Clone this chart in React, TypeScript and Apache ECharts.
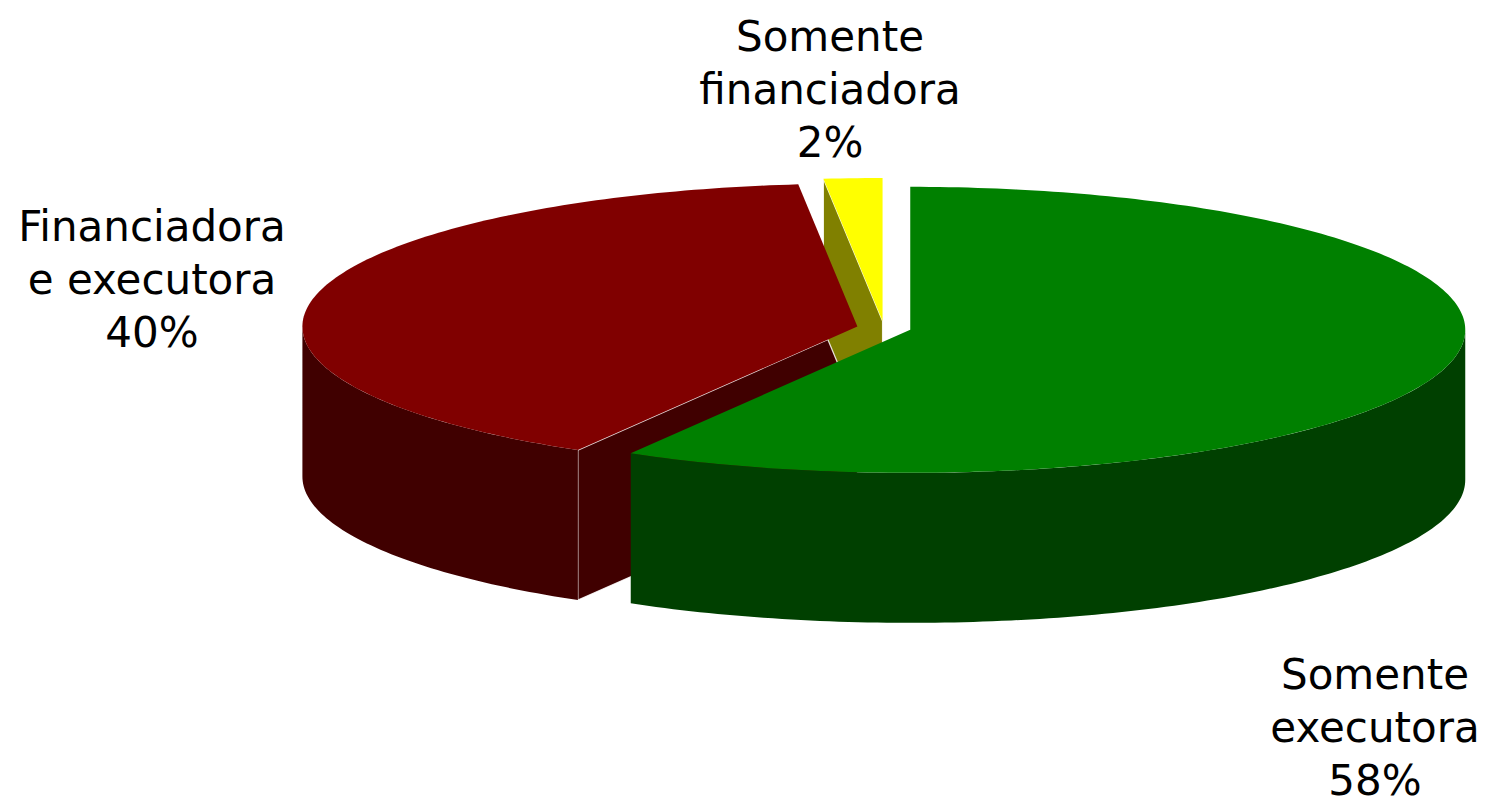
import React, { useEffect, useRef } from "react";
import * as echarts from "echarts";

// ---- data ----
const categories = ["Somente executora", "Financiadora e executora", "Somente financiadora"];
const labelNames = ["Somente\nexecutora", "Financiadora\ne executora", "Somente\nfinanciadora"];
const values = [58.4, 39.9, 1.7];

// ---- styles / layout ----
const topColors = ["#008000", "#800000", "#FFFF00"];
const sideColors = ["#004000", "#400000", "#808000"];
const CX = 884;
const CY = 328;
const RX = 555;
const RY = 143;
const DEPTH = 150;
const EXPLODE = 0.049;
const LABEL_POS: number[][] = [
  [1375, 727],
  [152, 279],
  [830, 89],
];

const total = values.reduce((a, b) => a + b, 0);
const starts: number[] = [];
{
  let acc = 0;
  values.forEach((v) => {
    starts.push(acc);
    acc += v;
  });
}

export default function App() {
  const ref = useRef<HTMLDivElement>(null);

  useEffect(() => {
    if (!ref.current) return;
    const chart = echarts.init(ref.current, undefined, { renderer: "svg" });

    const renderItem = (params: any, api: any) => {
      const i = params.dataIndex;
      const v = api.value(1) as number;
      const a0 = (starts[i] / total) * Math.PI * 2;
      const a1 = a0 + (v / total) * Math.PI * 2;
      const mid = (a0 + a1) / 2;
      const cx = CX + EXPLODE * RX * Math.sin(mid);
      const cy = CY - EXPLODE * RY * Math.cos(mid);
      const pt = (a: number, dz = 0) => [cx + RX * Math.sin(a), cy - RY * Math.cos(a) + dz];
      const arc = (from: number, to: number, dz: number) => {
        const n = Math.max(2, Math.ceil((to - from) / (Math.PI / 180)));
        const pts: number[][] = [];
        for (let k = 0; k <= n; k++) pts.push(pt(from + ((to - from) * k) / n, dz));
        return pts;
      };
      const children: any[] = [];

      // cut faces (only those facing the viewer)
      const face = (a: number) => ({
        type: "polygon",
        z2: 1,
        shape: { points: [[cx, cy], pt(a), pt(a, DEPTH), [cx, cy + DEPTH]] },
        style: { fill: sideColors[i], stroke: "rgba(255,255,255,0.85)", lineWidth: 1.2 },
      });
      if (Math.sin(a0) < -1e-6) children.push(face(a0));
      if (Math.sin(a1) > 1e-6) children.push(face(a1));

      // outer wall (front half only)
      const w0 = Math.max(a0, Math.PI / 2);
      const w1 = Math.min(a1, (Math.PI * 3) / 2);
      if (w1 > w0) {
        children.push({
          type: "polygon",
          z2: 2,
          shape: { points: [...arc(w0, w1, 0), ...arc(w0, w1, DEPTH).reverse()] },
          style: { fill: sideColors[i] },
        });
      }

      // top
      children.push({
        type: "polygon",
        z2: 3,
        shape: { points: [[cx, cy], ...arc(a0, a1, 0)] },
        style: { fill: topColors[i] },
      });

      // label
      const pct = Math.round((v / total) * 100);
      children.push({
        type: "text",
        z2: 4,
        x: LABEL_POS[i][0],
        y: LABEL_POS[i][1],
        style: {
          text: `${labelNames[i]}\n${pct}%`,
          fontSize: 42,
          fontFamily: "DejaVu Sans, Verdana, sans-serif",
          fill: "#000000",
          align: "center",
          verticalAlign: "middle",
          lineHeight: 53,
        },
      });

      return { type: "group", children };
    };

    chart.setOption({
      animation: false,
      backgroundColor: "#ffffff",
      series: [
        {
          type: "custom",
          coordinateSystem: "none",
          silent: true,
          renderItem,
          data: values.map((v, i) => ({ name: categories[i], value: [i, v] })),
        },
      ],
    });

    return () => chart.dispose();
  }, []);

  return (
    <div
      ref={ref}
      style={{ position: "absolute", left: 0, top: 0, width: 1485, height: 806 }}
    />
  );
}
